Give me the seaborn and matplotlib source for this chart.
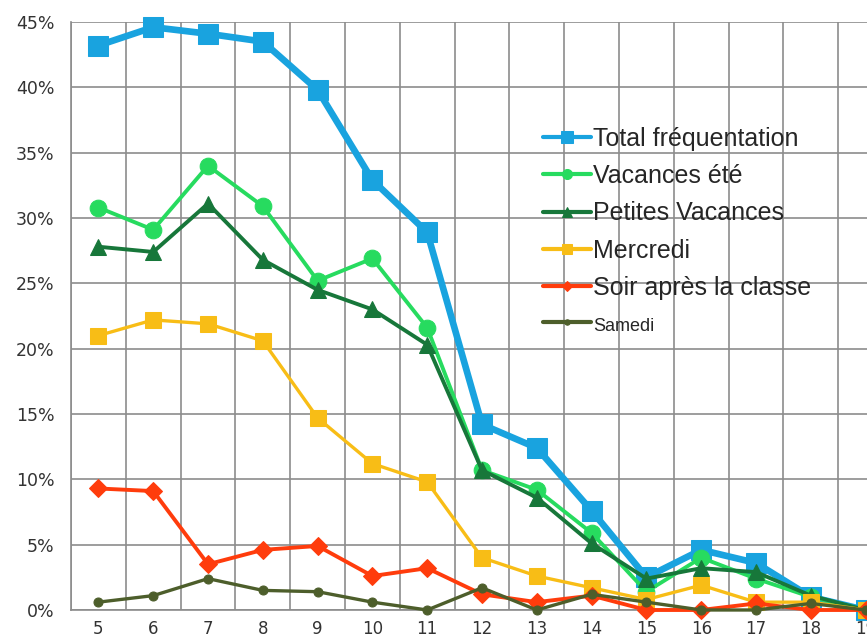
import numpy as np
import pandas as pd
import matplotlib
matplotlib.use("Agg")
import matplotlib.pyplot as plt
import seaborn as sns
from matplotlib.ticker import FixedLocator, FuncFormatter

ages = [5, 6, 7, 8, 9, 10, 11, 12, 13, 14, 15, 16, 17, 18, 19]

total = [43.2, 44.6, 44.1, 43.5, 39.8, 32.9, 28.9, 14.2, 12.4, 7.6, 2.5, 4.6, 3.6, 1.0, 0.0]
vacances_ete = [30.8, 29.1, 34.0, 30.9, 25.2, 26.9, 21.6, 10.7, 9.2, 5.9, 1.4, 4.0, 2.4, 1.0, 0.0]
petites_vacances = [27.8, 27.4, 31.1, 26.8, 24.5, 23.0, 20.3, 10.7, 8.6, 5.1, 2.4, 3.2, 2.9, 1.1, 0.0]
mercredi = [21.0, 22.2, 21.9, 20.6, 14.7, 11.2, 9.8, 4.0, 2.6, 1.7, 0.8, 1.9, 0.6, 0.6, 0.0]
soir = [9.3, 9.1, 3.5, 4.6, 4.9, 2.6, 3.2, 1.2, 0.6, 1.1, 0.0, 0.0, 0.5, 0.0, 0.0]
samedi = [0.6, 1.1, 2.4, 1.5, 1.4, 0.6, 0.0, 1.7, 0.0, 1.2, 0.6, 0.0, 0.0, 0.5, 0.0]

series = [
    ("Total fréquentation", total, "#19A3DF", "s", 15, 4.8),
    ("Vacances été", vacances_ete, "#27DB5F", "o", 12, 2.8),
    ("Petites Vacances", petites_vacances, "#17773A", "^", 12, 2.8),
    ("Mercredi", mercredi, "#F8BD16", "s", 12, 2.4),
    ("Soir après la classe", soir, "#FF3C0C", "D", 9, 2.8),
    ("Samedi", samedi, "#4D5E2B", "o", 6.5, 2.4),
]

sns.set_theme(style="white")
plt.rcParams['font.family'] = ['DejaVu Sans']

fig = plt.figure(figsize=(8.67, 6.39), dpi=100)
ax = fig.add_axes([0.0819, 0.0454, 1.030 - 0.0819, 0.9202])

pos = np.arange(len(ages))
for name, vals, color, marker, ms, lw in series:
    df = pd.DataFrame({"x": pos, "y": vals})
    sns.lineplot(data=df, x="x", y="y", ax=ax, color=color, marker=marker,
                 markersize=ms, linewidth=lw, markeredgecolor=color,
                 label=name, clip_on=False, zorder=3)

ax.set_xlim(-0.5, len(ages) - 0.5)
ax.set_ylim(0, 45)

ax.set_xticks(pos)
ax.set_xticklabels([str(a) for a in ages])
ax.xaxis.set_minor_locator(FixedLocator(np.arange(-0.5, len(ages), 1.0)))
ax.set_yticks(np.arange(0, 46, 5))
ax.yaxis.set_major_formatter(FuncFormatter(lambda v, p: f"{int(v)}%"))

ax.grid(True, axis="y", which="major", color="#8c8c8c", linewidth=1.2)
ax.grid(True, axis="x", which="minor", color="#8c8c8c", linewidth=1.2)
ax.grid(False, axis="x", which="major")
ax.set_axisbelow(True)

ax.tick_params(axis="x", which="major", length=0, labelsize=12, colors="#333333", pad=7)
ax.tick_params(axis="x", which="minor", length=6, width=1.2, color="#8c8c8c", direction="out")
ax.tick_params(axis="y", which="major", length=6, width=1.2, color="#8c8c8c", direction="out",
               labelsize=12.5, labelcolor="#333333", pad=6)

for s in ["top", "right"]:
    ax.spines[s].set_visible(False)
for s in ["left", "bottom"]:
    ax.spines[s].set_color("#8c8c8c")
    ax.spines[s].set_linewidth(1.2)

ax.set_xlabel("")
ax.set_ylabel("")

leg = ax.legend(loc="upper left", bbox_to_anchor=(0.612, 0.821), bbox_transform=fig.transFigure,
                frameon=False, handlelength=1.9, handletextpad=0.1, borderpad=0,
                labelspacing=0.53, markerscale=0.6,
                prop={"family": ["Liberation Sans", "DejaVu Sans"], "size": 18})
leg.get_texts()[-1].set_fontsize(13)
for line in leg.get_lines():
    line.set_linewidth(3)

fig.savefig("out.png", dpi=100)
